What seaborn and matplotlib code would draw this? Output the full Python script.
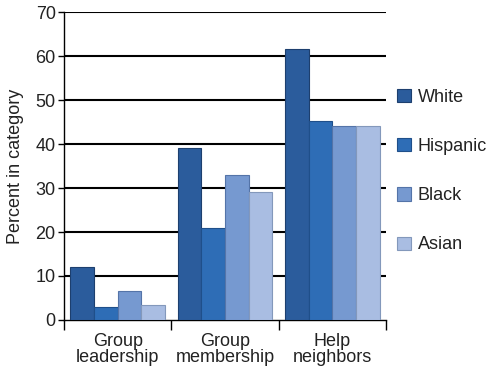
import matplotlib
matplotlib.use("Agg")
import matplotlib.pyplot as plt
from matplotlib.patches import Patch
import seaborn as sns
import pandas as pd

categories = ["Group\nleadership", "Group\nmembership", "Help\nneighbors"]
groups = ["White", "Hispanic", "Black", "Asian"]
white = [12, 39, 61.5]
hispanic = [3, 21, 45.2]
black = [6.5, 33, 44]
asian = [3.5, 29, 44]
colors = ["#2b5c9c", "#2e6db6", "#7699d0", "#a9bde2"]
edges = ["#1d3f6e", "#1f4f8a", "#5474a8", "#8398bb"]

rows = []
for g, vals in zip(groups, [white, hispanic, black, asian]):
    for c, v in zip(categories, vals):
        rows.append({"category": c, "group": g, "value": v})
df = pd.DataFrame(rows)

sns.set_style("white")
plt.rcParams["font.family"] = ["Liberation Sans", "DejaVu Sans"]
FS = 13
TXT = "#222222"

fig = plt.figure(figsize=(4.87, 3.70), dpi=100)
ax = fig.add_axes([64 / 487, 1 - 320 / 370, (386 - 64) / 487, (320 - 12) / 370])

sns.barplot(data=df, x="category", y="value", hue="group", hue_order=groups,
            palette=colors, saturation=1, width=0.88, gap=0, ax=ax,
            legend=False, zorder=3)

for i, container in enumerate(ax.containers):
    for bar in container:
        bar.set_edgecolor(edges[i])
        bar.set_linewidth(0.8)

ax.set_ylim(0, 70)
ax.set_xlim(-0.5, 2.5)
ax.set_yticks(range(0, 71, 10))
ax.tick_params(axis="y", direction="out", length=4, width=1, color="black",
               labelsize=FS, labelcolor=TXT, pad=2, left=True)
ax.tick_params(axis="x", which="major", length=0, labelsize=FS,
               labelcolor=TXT, pad=9)
for lbl in ax.get_xticklabels():
    lbl.set_linespacing(1.0)
ax.set_xticks([-0.5, 0.5, 1.5, 2.5], minor=True)
ax.tick_params(axis="x", which="minor", direction="out", length=7, width=1,
               color="black", bottom=True)
for y in range(10, 71, 10):
    ax.axhline(y, color="black", linewidth=1.5, zorder=1)

for side in ["top", "right"]:
    ax.spines[side].set_visible(False)
ax.spines["left"].set_color("black")
ax.spines["bottom"].set_color("black")
ax.spines["left"].set_linewidth(1)
ax.spines["bottom"].set_linewidth(1)

ax.set_xlabel("")
ax.set_ylabel("Percent in category", fontsize=FS, color=TXT, labelpad=8)

handles = [Patch(facecolor=c, edgecolor=e, linewidth=0.8) for c, e in zip(colors, edges)]
fig.legend(handles, groups, loc="upper left", bbox_to_anchor=(397 / 487, 1 - 89 / 370),
           frameon=False, fontsize=FS, labelcolor=TXT, handlelength=0.75,
           handleheight=0.75, handletextpad=0.4, labelspacing=1.78, borderaxespad=0,
           borderpad=0)

fig.savefig("out.png", dpi=100)
